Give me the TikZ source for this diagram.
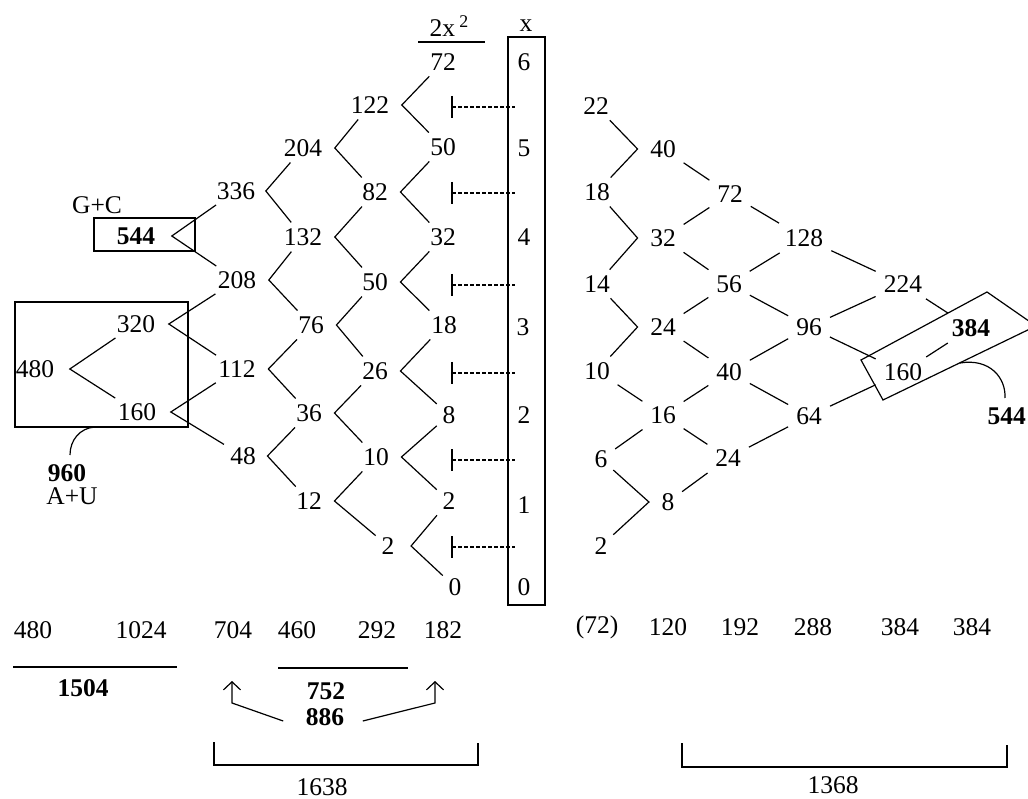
\documentclass[tikz,border=0pt]{standalone}
\usepackage{fontspec}
\setmainfont{Liberation Serif}
\usetikzlibrary{arrows.meta}
\newcommand\lkL[4][9pt]{\draw[ln] (#3) -- ([xshift=#1]#2.east) -- (#4);}
\newcommand\lkR[3]{\draw[ln] (#2) -- ([xshift=-9pt]#1.west) -- (#3);}
\newcommand\lkP[2]{\draw[lp] (#1) -- (#2);}
\begin{document}
\begin{tikzpicture}[x=1pt,y=-1pt,
  every node/.style={font=\fontsize{25.5}{29}\selectfont, inner sep=3.5pt},
  bnum/.style={font=\fontsize{25.5}{29}\selectfont\bfseries},
  ln/.style={line width=1.2pt, shorten >=3pt, shorten <=3pt},
  lp/.style={line width=1.2pt, shorten >=5pt, shorten <=5pt},
  plainline/.style={line width=1.2pt},
  tickdash/.style={line width=1.1pt, dash pattern=on 4pt off 2pt},
  arr/.style={line width=1.2pt, -{Straight Barb[length=8pt,width=17pt]}}]
\useasboundingbox (0,0) rectangle (1028,799);
\begin{scope}
\clip (0,0) rectangle (1028,799);
% ---------- axis ----------
\node[anchor=base west] (n2x) at (426,37) {2x\,\textsuperscript{2}};
\draw[plainline] (418,42) -- (485,42);
\node (xl) at (526,26) {x};
\draw[line width=1.4pt] (508,37) rectangle (545,605);
\node (ax6) at (524,62) {6};
\node (ax5) at (524,148) {5};
\node (ax4) at (524,237) {4};
\node (ax3) at (523,327) {3};
\node (ax2) at (524,415) {2};
\node (ax1) at (524,505) {1};
\node (ax0) at (524,587) {0};
\foreach \yy in {107,193,285,373,460,547}{
  \draw[plainline] (452,\yy-11) -- (452,\yy+11);
  \draw[tickdash] (452,\yy) -- (515,\yy);
}
% ---------- left tree ----------
\node (a72) at (443,62) {72};
\node (a50) at (443,147) {50};
\node (a32) at (443,237) {32};
\node (a18) at (444,325) {18};
\node (a8) at (449,415) {8};
\node (a2) at (449,501) {2};
\node (a0) at (455,587) {0};
\node (b122) at (370,105) {122};
\node (b82) at (375,192) {82};
\node (b50) at (375,282) {50};
\node (b26) at (375,371) {26};
\node (b10) at (376,457) {10};
\node (b2) at (388,546) {2};
\node (c204) at (303,148) {204};
\node (c132) at (303,237) {132};
\node (c76) at (311,325) {76};
\node (c36) at (309,413) {36};
\node (c12) at (309,501) {12};
\node (d336) at (236,191) {336};
\node (d208) at (237,280) {208};
\node (d112) at (237,369) {112};
\node (d48) at (243,456) {48};
\node[bnum] (e544) at (136,236) {544};
\node (e320) at (136,324) {320};
\node (e160) at (137,412) {160};
\node (f480) at (35,369) {480};
\node (gc) at (97,205) {G+C};
\node[bnum] (n960) at (67,473) {960};
\node (au) at (72,496) {A+U};
\draw[plainline] (94,218) rectangle (195,251);
\draw[plainline] (15,302) rectangle (188,427);
\draw[plainline] (95,427) .. controls (80,428) and (70,440) .. (70,455);
\lkL{b122}{a72}{a50}
\lkL{c204}{b122}{b82}
\lkL{b82}{a50}{a32}
\lkL[7pt]{d336}{c204}{c132}
\lkL{c132}{b82}{b50}
\lkL{b50}{a32}{a18}
\lkL[13pt]{e544}{d336}{d208}
\lkL{d208}{c132}{c76}
\lkL{c76}{b50}{b26}
\lkL{b26}{a18}{a8}
\lkL[10pt]{e320}{d208}{d112}
\lkL{d112}{c76}{c36}
\lkL{c36}{b26}{b10}
\lkL{b10}{a8}{a2}
\lkL[12pt]{f480}{e320}{e160}
\lkL[11pt]{e160}{d112}{d48}
\lkL[8pt]{d48}{c36}{c12}
\lkL{c12}{b10}{b2}
\lkL[13pt]{b2}{a2}{a0}
% ---------- right tree ----------
\node (r22) at (596,106) {22};
\node (r18) at (597,192) {18};
\node (r14) at (597,284) {14};
\node (r10) at (597,371) {10};
\node (r6) at (601,459) {6};
\node (r2) at (601,546) {2};
\node (s40) at (663,149) {40};
\node (s32) at (663,238) {32};
\node (s24) at (663,327) {24};
\node (s16) at (663,415) {16};
\node (s8) at (668,502) {8};
\node (t72) at (730,194) {72};
\node (t56) at (729,284) {56};
\node (t40) at (729,372) {40};
\node (t24) at (728,458) {24};
\node (u128) at (804,238) {128};
\node (u96) at (809,327) {96};
\node (u64) at (809,416) {64};
\node (v224) at (903,284) {224};
\node (v160) at (903,372) {160};
\node[bnum] (w384) at (971,328) {384};
\node[bnum,anchor=east,inner sep=0pt] (w544) at (1026,416) {544};
\lkR{s40}{r22}{r18}
\lkR{s32}{r18}{r14}
\lkR{s24}{r14}{r10}
\lkP{r10}{s16}
\lkP{r6}{s16}
\lkR{s8}{r6}{r2}
\lkP{s40}{t72}
\lkP{s32}{t72}
\lkP{s32}{t56}
\lkP{s24}{t56}
\lkP{s24}{t40}
\lkP{s16}{t40}
\lkP{s16}{t24}
\lkP{s8}{t24}
\lkP{t72}{u128}
\lkP{t56}{u128}
\lkP{t56}{u96}
\lkP{t40}{u96}
\lkP{t40}{u64}
\lkP{t24}{u64}
\lkP{u128}{v224}
\lkP{u96}{v224}
\lkP{u96}{v160}
\lkP{u64}{v160}
\lkP{v224}{w384}
\lkP{v160}{w384}
\draw[plainline] (861,360) -- (987,292) -- (1036,326) -- (883,400) -- cycle;
\draw[plainline] (960,363) .. controls (990,358) and (1006,378) .. (1005,398);
% ---------- bottom rows ----------
\node (g480) at (33,630) {480};
\node (g1024) at (141,630) {1024};
\node (g704) at (233,630) {704};
\node (g460) at (297,630) {460};
\node (g292) at (377,630) {292};
\node (g182) at (443,630) {182};
\node (h72) at (597,627) {(72)};
\node (h120) at (668,627) {120};
\node (h192) at (740,627) {192};
\node (h288) at (813,627) {288};
\node (h384a) at (900,627) {384};
\node (h384b) at (972,627) {384};
\draw[plainline] (13,667) -- (177,667);
\node[bnum] (n1504) at (83,688) {1504};
\draw[plainline] (278,668) -- (408,668);
\node[bnum] (n752) at (326,691) {752};
\node[bnum] (n886) at (325,717) {886};
\coordinate (la) at (232,703);
\coordinate (ra) at (435,703);
\draw[arr] ([xshift=-19pt,yshift=-4pt]n886.west) -- (la) -- (232,681);
\draw[arr] ([xshift=15pt,yshift=-4pt]n886.east) -- (ra) -- (435,681);
\draw[plainline] (214,742) -- (214,765) -- (478,765) -- (478,743);
\node (n1638) at (322,787) {1638};
\draw[plainline] (682,743) -- (682,767) -- (1007,767) -- (1007,745);
\node (n1368) at (833,785) {1368};
\end{scope}
\end{tikzpicture}
\end{document}
